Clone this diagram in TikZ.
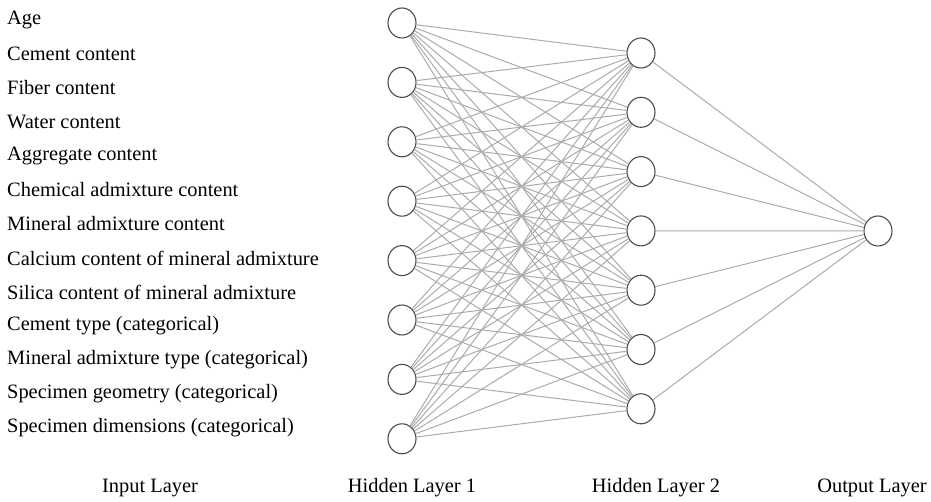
\documentclass[tikz,border=0pt]{standalone}
\usepackage{fontspec}
\setmainfont{Liberation Serif}
\tikzset{
    neuron/.style={draw=black!70, ellipse, line width=1.1pt, minimum width=28pt, minimum height=30pt, inner sep=0pt, fill=white},
    link/.style={draw=black!33, line width=1pt},
    feat/.style={anchor=west, inner sep=0pt, font=\fontsize{20.4}{22}\selectfont},
    layername/.style={inner sep=0pt, font=\fontsize{20.4}{22}\selectfont}
}
\usetikzlibrary{shapes.geometric}
\begin{document}
\begin{tikzpicture}[x=1pt, y=-1pt]
        \useasboundingbox (0,0) rectangle (931,502);
        % input features
        \foreach \txt [count=\i from 0] in {Age, Cement content, Fiber content, Water content,
            Aggregate content, Chemical admixture content, Mineral admixture content,
            Calcium content of mineral admixture, Silica content of mineral admixture,
            Cement type (categorical), Mineral admixture type (categorical),
            Specimen geometry (categorical), Specimen dimensions (categorical)}
            \node[feat] (in\i) at (7,20+34*\i) {\txt};
        % hidden layers
        \foreach \i in {1,...,8}
            \node[neuron] (a\i) at (402,23+59.4*\i-59.4) {};
        \foreach \j in {1,...,7}
            \node[neuron] (b\j) at (641,53+59.3*\j-59.3) {};
        \node[neuron] (out) at (878,231) {};
        % connections
        \foreach \i in {1,...,8}
            \foreach \j in {1,...,7}
                \draw[link] (a\i) -- (b\j);
        \foreach \j in {1,...,7}
            \draw[link] (b\j) -- (out);
        % layer names
        \node[layername] (l0) at (150,488) {Input Layer};
        \node[layername] (l1) at (412,488) {Hidden Layer 1};
        \node[layername] (l2) at (656,488) {Hidden Layer 2};
        \node[layername] (l3) at (872,488) {Output Layer};
    \end{tikzpicture}
\end{document}
